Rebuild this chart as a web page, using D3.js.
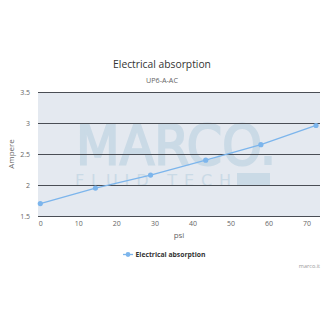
<!DOCTYPE html>
<html>
<head>
<meta charset="utf-8">
<script src="https://cdn.jsdelivr.net/npm/d3@7"></script>
<style>
  body { margin: 0; background: #fff; }
  svg { display: block; font-family: "Open Sans", "DejaVu Sans", sans-serif; }
</style>
</head>
<body>
<div id="chart"></div>
<script>
// --- data
const pressure = [0, 14.5, 29, 43.5, 58, 72.5];       // psi
const current = [1.7, 1.95, 2.16, 2.4, 2.65, 2.96];   // Ampere
const xTicks = [0, 10, 20, 30, 40, 50, 60, 70];
const yTicks = [1.5, 2, 2.5, 3, 3.5];
const seriesName = 'Electrical absorption';

const width = 325;
const height = 325;
const plot = { left: 38, right: 320, top: 92, bottom: 216 };

const svg = d3.select('#chart').append('svg')
  .attr('width', width)
  .attr('height', height);

const x = d3.scaleLinear().domain([0, 72.5]).range([40.3, 316]);
const y = d3.scaleLinear().domain([1.5, 3.5]).range([plot.bottom, plot.top]);

// titles
svg.append('text')
  .attr('x', 162).attr('y', 68)
  .attr('text-anchor', 'middle')
  .style('font-size', '10.3px')
  .style('fill', '#333')
  .text('Electrical absorption');
svg.append('text')
  .attr('x', 162).attr('y', 83)
  .attr('text-anchor', 'middle')
  .style('font-size', '7.2px')
  .style('fill', '#666')
  .text('UP6-A-AC');

// plot background
svg.append('rect')
  .attr('x', plot.left).attr('y', plot.top)
  .attr('width', plot.right - plot.left)
  .attr('height', plot.bottom - plot.top)
  .style('fill', '#e4e9f0');

// watermark
const wm = svg.append('g').style('fill', '#cadae6');
wm.append('text')
  .attr('x', 76).attr('y', 164)
  .attr('textLength', 200)
  .attr('lengthAdjust', 'spacingAndGlyphs')
  .style('font-family', '"DejaVu Sans", sans-serif')
  .style('font-size', '56px')
  .style('stroke', '#cadae6')
  .style('stroke-width', 2.2)
  .text('MARCO.');
wm.append('text')
  .attr('x', 75).attr('y', 185.5)
  .attr('textLength', 156)
  .attr('lengthAdjust', 'spacing')
  .style('font-family', '"DejaVu Sans", sans-serif')
  .style('font-size', '16px')
  .text('FLUID TECH');
wm.append('rect')
  .attr('x', 237).attr('y', 173)
  .attr('width', 33).attr('height', 12.5);

// gridlines
svg.append('g')
  .selectAll('line')
  .data(yTicks)
  .join('line')
  .attr('x1', plot.left).attr('x2', plot.right)
  .attr('y1', d => Math.round(y(d)) + 0.5)
  .attr('y2', d => Math.round(y(d)) + 0.5)
  .style('stroke', '#4a4e55')
  .style('stroke-width', 1);

// axes
const yAxis = svg.append('g')
  .attr('transform', `translate(${plot.left - 8},0)`)
  .call(d3.axisLeft(y).tickValues(yTicks).tickSize(0).tickPadding(0).tickFormat(d3.format('')));
yAxis.select('.domain').remove();
yAxis.selectAll('text')
  .style('font-family', '"Open Sans", sans-serif')
  .style('font-size', '7px')
  .style('fill', '#666');

const xAxis = svg.append('g')
  .attr('transform', `translate(0,${plot.bottom + 5})`)
  .call(d3.axisBottom(x).tickValues(xTicks).tickSize(0).tickPadding(0));
xAxis.select('.domain').remove();
xAxis.selectAll('text')
  .style('font-family', '"Open Sans", sans-serif')
  .style('font-size', '7px')
  .style('fill', '#666');

svg.append('text')
  .attr('x', 179).attr('y', 238)
  .attr('text-anchor', 'middle')
  .style('font-size', '8px')
  .style('fill', '#666')
  .text('psi');
svg.append('text')
  .attr('transform', 'translate(14,154) rotate(-90)')
  .attr('text-anchor', 'middle')
  .style('font-size', '8px')
  .style('fill', '#666')
  .text('Ampere');

// series
const pts = pressure.map((p, i) => [p, current[i]]);
svg.append('path')
  .datum(pts)
  .attr('d', d3.line().x(d => x(d[0])).y(d => y(d[1])))
  .style('fill', 'none')
  .style('stroke', '#7cb5ec')
  .style('stroke-width', 1.3);
svg.append('g')
  .selectAll('circle')
  .data(pts)
  .join('circle')
  .attr('cx', d => x(d[0]))
  .attr('cy', d => y(d[1]))
  .attr('r', 2.6)
  .style('fill', '#7cb5ec');

// legend
const lg = svg.append('g').attr('transform', 'translate(123,254.5)');
lg.append('line')
  .attr('x1', 0).attr('x2', 10)
  .style('stroke', '#7cb5ec').style('stroke-width', 1.3);
lg.append('circle')
  .attr('cx', 5).attr('r', 2.4)
  .style('fill', '#7cb5ec');
lg.append('text')
  .attr('x', 12.5).attr('y', 2.6)
  .style('font-size', '6.8px')
  .style('font-weight', 'bold')
  .style('fill', '#333')
  .text(seriesName);

// credits
svg.append('text')
  .attr('x', 320).attr('y', 268)
  .attr('text-anchor', 'end')
  .style('font-size', '5.5px')
  .style('fill', '#999')
  .text('marco.it');
</script>
</body>
</html>
